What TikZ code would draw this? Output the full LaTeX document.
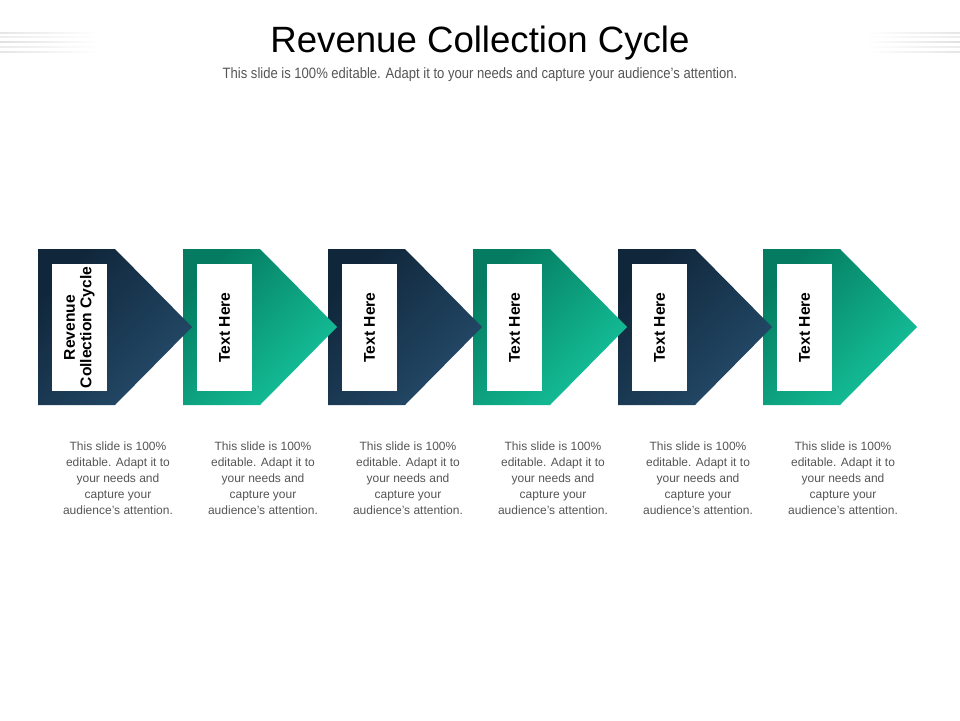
\documentclass[tikz,border=0pt]{standalone}
\usepackage{fontspec}
\setmainfont{Liberation Sans}
\definecolor{dkA}{HTML}{10263A}
\definecolor{dkB}{HTML}{244B6A}
\definecolor{tlA}{HTML}{057C61}
\definecolor{tlB}{HTML}{15C49C}
\definecolor{bodygray}{HTML}{555555}
\tikzset{
  darkfill/.style={top color=dkA, bottom color=dkB, shading angle=45, draw=none},
  tealfill/.style={top color=tlA, bottom color=tlB, shading angle=45, draw=none},
  whitebox/.style={fill=white, draw=none, minimum width=55pt, minimum height=127pt, inner sep=0pt},
  boxlabel/.style={rotate=90, font=\fontsize{15.6}{16.5}\selectfont\bfseries, text=black, align=center},
  bodytext/.style={font=\fontsize{12}{16}\selectfont, text=bodygray, align=center, anchor=north},
}
\begin{document}
\begin{tikzpicture}[x=1pt,y=-1pt]
\useasboundingbox (0,0) rectangle (960,720);
% decorative lines
\foreach \yy/\gg in {32/10,36/7,41/12,46/8,51/10}{
  \shade[left color=black!\gg, right color=white] (0,\yy) rectangle (100,\yy+1.5);
  \shade[left color=white, right color=black!\gg] (865,\yy) rectangle (960,\yy+1.5);
}
\node[anchor=base, inner sep=0pt] (title) at (480,52.7) {\fontsize{36.6}{40}\selectfont Revenue Collection Cycle};
\node[anchor=base, inner sep=0pt, text=bodygray] (subtitle) at (480,78.3) {\scalebox{0.87}[1]{\fontsize{15}{17}\selectfont This slide is 100\% editable. Adapt it to your needs and capture your audience's attention.}};
\foreach \i/\sty in {5/tealfill,4/darkfill,3/tealfill,2/darkfill,1/tealfill,0/darkfill}{
  \pgfmathsetmacro{\L}{38+145*\i}
  \path[\sty] (\L,249) -- (\L+77,249) -- (\L+154,327) -- (\L+77,405) -- (\L,405) -- cycle;
  \node[whitebox] (box\i) at (\L+41.5,327.5) {};
  \node[bodytext] (body\i) at (\L+80,438) {This slide is 100\%\\editable. Adapt it to\\your needs and\\capture your\\audience's attention.};
}
\node[boxlabel] (lab0) at (box0) {Revenue\\Collection Cycle};
\foreach \i in {1,...,5}{
  \node[boxlabel] (lab\i) at (box\i) {Text Here};
}
\end{tikzpicture}
\end{document}
